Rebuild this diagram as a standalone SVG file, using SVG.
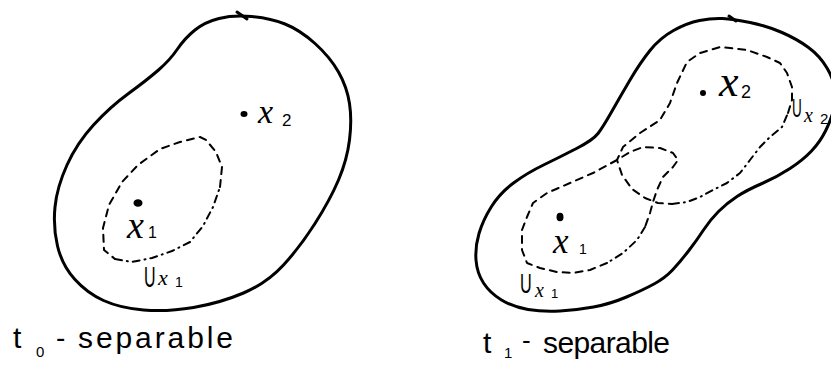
<svg xmlns="http://www.w3.org/2000/svg" width="831" height="373" viewBox="0 0 831 373">
<style>
.out{fill:none;stroke:#000;stroke-width:3;stroke-linecap:round;stroke-linejoin:round}
.da{fill:none;stroke:#000;stroke-width:2;stroke-dasharray:7 6;stroke-linecap:round;stroke-linejoin:round}
.dd{fill:none;stroke:#000;stroke-width:2;stroke-dasharray:7 5 1 5;stroke-linecap:round;stroke-linejoin:round}
.mx{font-family:"Liberation Serif",serif;font-style:italic;fill:#000}
.hs{font-family:"Liberation Sans",sans-serif;fill:#000}
</style>
<rect width="831" height="373" fill="#fff"/>
<g id="left-space">
<path class="out" d="M 219,18.5 Q 233,15 251.5,16.5 Q 270,18 285,24 Q 300,30 315,43.5 Q 330,57 338.5,72 Q 347,87 349.5,103.5 Q 352,120 349.5,140 Q 347,160 338.5,180 Q 330,200 315,223.5 Q 300,247 283.5,265 Q 267,283 243.5,293 Q 220,303 193.5,307.5 Q 167,312 143.5,310 Q 120,308 103.5,300.5 Q 87,293 74.5,279 Q 62,265 57.5,246 Q 53,227 55,207 Q 57,187 67,165 Q 77,143 93.5,125 Q 110,107 128.5,93.5 Q 147,80 158.5,70 Q 170,60 177.5,49 Q 185,38 195,30 Q 205,22 219,18.5 Z"/>
<path class="out" d="M 237,12 L 247,19" stroke-width="2"/>
</g>
<g id="left-Ux1">
<path class="da" d="M 220,187 L 222,167 L 216,152 L 206,140 L 200,137 L 180,142 L 160,149 L 138,165 L 122,182 L 109,205 L 103,228 L 104,250 L 115,259"/>
<path class="dd" d="M 115,259 L 132,262 L 152,258 L 172,251 L 190,242 L 203,226 L 213,207 L 220,187"/>
<text class="hs" transform="translate(144,287) scale(0.55,1)" font-size="29">U</text>
<text class="mx" x="158" y="285" font-size="22">x<tspan class="hs" x="175" y="287" font-size="14" font-style="normal">1</tspan></text>
</g>
<g id="left-x1">
<ellipse cx="138" cy="203" rx="4.5" ry="3.8" fill="#000"/>
<text class="mx" x="127" y="238" font-size="38">x<tspan class="hs" x="148" font-size="16" font-style="normal">1</tspan></text>
</g>
<g id="left-x2">
<ellipse cx="244" cy="114" rx="3.5" ry="3" fill="#000"/>
<text class="mx" x="258" y="123" font-size="34">x<tspan class="hs" x="282" y="126" font-size="17" font-style="normal">2</tspan></text>
</g>
<g id="left-caption">
<text class="hs" x="13" y="348" font-size="30">t<tspan x="36" y="357" font-size="15">0</tspan><tspan x="56" y="347" font-size="28">-</tspan><tspan x="78" y="348" textLength="155" lengthAdjust="spacing">separable</tspan></text>
</g>
<g id="right-space">
<path class="out" d="M 722.5,18.5 Q 733,19 750,22.5 Q 767,26 782,32.5 Q 797,39 808.5,47.5 Q 820,56 827,68 Q 834,80 835,90 Q 836,100 833.5,110 Q 831,120 825.5,131 Q 820,142 811.5,151 Q 803,160 790,168.5 Q 777,177 762,183.5 Q 747,190 737,196.5 Q 727,203 718.5,211.5 Q 710,220 703.5,230 Q 697,240 688.5,251 Q 680,262 672.5,270 Q 665,278 654,284 Q 643,290 626.5,297 Q 610,304 593.5,307 Q 577,310 560,311 Q 543,312 528,309.5 Q 513,307 501.5,300 Q 490,293 483.5,283 Q 477,273 476,260 Q 475,247 479,233.5 Q 483,220 491.5,206.5 Q 500,193 513.5,183 Q 527,173 543.5,165 Q 560,157 576.5,148.5 Q 593,140 598,133.5 Q 603,127 611.5,112 Q 620,97 630,80 Q 640,63 650,50.5 Q 660,38 673.5,30.5 Q 687,23 699.5,20.5 Q 712,18 722.5,18.5 Z"/>
<path class="out" d="M 729,16 L 736,21" stroke-width="2"/>
</g>
<g id="right-Ux2">
<path class="da" d="M 788,113 L 792,100 L 792,87 L 787,73 L 780,63 L 767,57 L 747,50 L 720,47 L 700,53 L 687,62 L 677,83 L 670,103 L 660,120 L 640,133 L 623,147 L 617,160 L 622,175 L 632,189 L 645,198 L 658,203 L 672,204"/>
<path class="dd" d="M 672,204 L 687,202 L 700,197 L 713,190 L 727,183 L 740,173 L 750,160 L 760,147 L 770,137 L 782,127 L 788,113"/>
<text class="hs" transform="translate(792,117) scale(0.52,1)" font-size="26">U</text>
<text class="mx" x="804" y="122" font-size="20">x<tspan class="hs" x="820" y="124" font-size="15" font-style="normal">2</tspan></text>
</g>
<g id="right-Ux1">
<path class="da" d="M 607,263 L 590,270 L 573,273 L 557,272 L 540,268 L 527,263 L 522,250 L 522,230 L 527,217 L 533,203 L 547,193 L 570,183 L 593,173 L 617,160 L 630,152 L 643,147 L 660,148 L 673,153 L 678,160 L 673,167 L 663,177 L 657,190 L 653,202 L 650,213 L 645,227"/>
<path class="dd" d="M 645,227 L 637,240 L 623,253 L 607,263"/>
<text class="hs" transform="translate(520,293) scale(0.6,1)" font-size="27">U</text>
<text class="mx" x="535" y="297" font-size="20">x<tspan class="hs" x="551" y="298" font-size="13" font-style="normal">1</tspan></text>
</g>
<g id="right-x1">
<ellipse cx="560" cy="217" rx="3.5" ry="4.3" fill="#000"/>
<text class="mx" x="553" y="253" font-size="35">x<tspan class="hs" x="579" y="254" font-size="14" font-style="normal">1</tspan></text>
</g>
<g id="right-x2">
<circle cx="703" cy="93" r="3" fill="#000"/>
<text class="mx" x="719" y="96" font-size="44">x<tspan class="hs" x="741" y="98" font-size="18" font-style="normal">2</tspan></text>
</g>
<g id="right-caption">
<text class="hs" x="483" y="353" font-size="30">t<tspan x="504" y="358" font-size="15">1</tspan><tspan x="522" y="349" font-size="26">-</tspan><tspan x="543" y="353" textLength="127" lengthAdjust="spacing">separable</tspan></text>
</g>
</svg>
